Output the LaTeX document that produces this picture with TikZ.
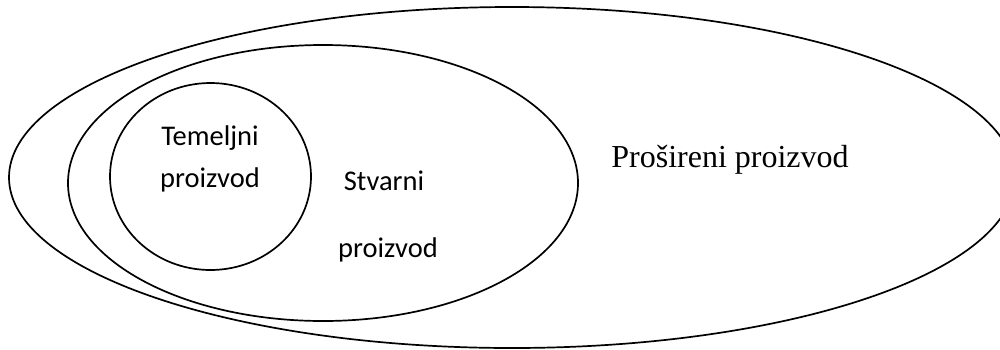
\documentclass[tikz,border=0pt]{standalone}
\usepackage{fontspec}
\setmainfont{Liberation Serif}
\newfontfamily\calfont{Carlito}
\begin{document}
\begin{tikzpicture}[x=1pt,y=-1pt,
  ring/.style={line width=1.7pt},
  sanslabel/.style={anchor=base,inner sep=0pt,font=\calfont\fontsize{28.5}{32}\selectfont},
  seriflabel/.style={anchor=base,inner sep=0pt,font=\fontsize{32}{38}\selectfont}]
\useasboundingbox (0,0) rectangle (1000,349);
\clip (0,0) rectangle (1000,349);
\draw[ring] (512,177.5) ellipse [x radius=503, y radius=170.5];
\draw[ring] (323,183) ellipse [x radius=255, y radius=138];
\draw[ring] (210.5,176.5) ellipse [x radius=100.5, y radius=93.5];
\node[sanslabel] (tem) at (210,145) {Temeljni};
\node[sanslabel] (tpr) at (210,187) {proizvod};
\node[sanslabel] (stv) at (384,190) {Stvarni};
\node[sanslabel] (spr) at (388,257) {proizvod};
\node[seriflabel] (pro) at (730,167) {Prošireni proizvod};
\end{tikzpicture}
\end{document}
